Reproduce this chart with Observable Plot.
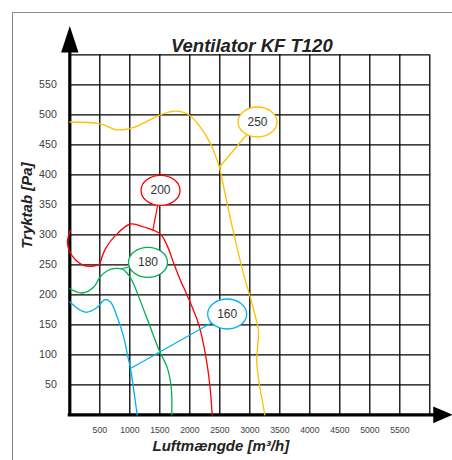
<!DOCTYPE html>
<html>
<head>
<meta charset="utf-8">
<script src="https://cdn.jsdelivr.net/npm/d3@7"></script>
<script src="https://cdn.jsdelivr.net/npm/@observablehq/plot@0.6"></script>
<style>
  html, body { margin: 0; padding: 0; background: white; overflow: hidden; }
  #wrap { position: relative; width: 452px; height: 460px; }
  #border { position: absolute; left: 12px; top: 12px; width: 600px; height: 600px;
            border-left: 1px solid #8a8a8a; border-top: 1px solid #8a8a8a; pointer-events: none; z-index: 2; }
</style>
</head>
<body>
<div id="wrap"><div id="border"></div></div>
<script>
// ---- Data ----
const fans = ["250", "200", "180", "160"];
const fanColors = ["#FFC000", "#FF0000", "#00B050", "#00B0F0"];

// Fan 250 (two pieces, kink at ~2500 m3/h)
const flow250a = [0, 511, 778, 1067, 1512, 1762, 1983, 2178, 2345, 2457, 2495];
const pres250a = [488, 485, 475, 479, 500, 506, 500, 479, 452, 424, 413];
const flow250b = [2495, 2733, 2930, 3000, 3095, 3145, 3130, 3115, 3150, 3207, 3250];
const pres250b = [413, 302, 222, 199, 163, 141, 113, 91, 57, 24, 0];

// Fan 200 (two pieces, cusp at 500 m3/h)
const flow200a = [10, -40, 40, 233, 400, 500];
const pres200a = [307, 287, 265, 249, 248, 251];
const flow200b = [500, 595, 762, 1012, 1233, 1500, 1623, 1733, 1845, 1957, 2150, 2262, 2333, 2373];
const pres200b = [251, 277, 299, 318, 313, 302, 282, 252, 224, 199, 150, 100, 50, 0];

// Fan 180
const flow180 = [0, 207, 400, 500, 623, 762, 873, 957, 1040, 1270, 1500, 1623, 1690, 1700];
const pres180 = [210, 203, 213, 229, 240, 244, 243, 236, 223, 165, 105, 79, 46, 0];

// Fan 160
const flow160 = [0, 262, 457, 583, 678, 790, 900, 957, 1012, 1067, 1123];
const pres160 = [188, 171, 179, 192, 188, 163, 129, 102, 77, 40, 0];

// Callout labels
const calloutLabels = ["250", "200", "180", "160"];
const calloutFlow = [3128, 1512, 1303, 2623];
const calloutPres = [488, 374, 254, 168];
const leaderFlow = [2495, 1383, 845, 1012];
const leaderPres = [413, 307, 243, 77];

// Axes
const xTickLabels = [500, 1000, 1500, 2000, 2500, 3000, 3500, 4000, 4500, 5000, 5500];
const yTickLabels = [50, 100, 150, 200, 250, 300, 350, 400, 450, 500, 550];
const xGrid = [0, 500, 1000, 1500, 2000, 2500, 3000, 3500, 4000, 4500, 5000, 5500, 6000];
const yGrid = [0, 50, 100, 150, 200, 250, 300, 350, 400, 450, 500, 550, 600];

const title = "Ventilator KF T120";
const xLabel = "Luftmængde [m³/h]";
const yLabel = "Tryktab [Pa]";

// ---- Build tables ----
const pieces = [
  {fan: "250", seg: "a", flow: flow250a, pres: pres250a},
  {fan: "250", seg: "b", flow: flow250b, pres: pres250b},
  {fan: "200", seg: "a", flow: flow200a, pres: pres200a},
  {fan: "200", seg: "b", flow: flow200b, pres: pres200b},
  {fan: "180", seg: "a", flow: flow180, pres: pres180},
  {fan: "160", seg: "a", flow: flow160, pres: pres160}
];
const rows = pieces.flatMap(p => p.flow.map((f, i) => ({fan: p.fan, key: p.fan + p.seg, flow: f, pres: p.pres[i]})));
const callouts = calloutLabels.map((l, i) => ({
  fan: l, cx: calloutFlow[i], cy: calloutPres[i], lx: leaderFlow[i], ly: leaderPres[i]
}));

// ---- Custom symbols ----
const ellipse = {
  draw(ctx) {
    const rx = 19.5, ry = 15, k = 0.5523;
    ctx.moveTo(rx, 0);
    ctx.bezierCurveTo(rx, ry * k, rx * k, ry, 0, ry);
    ctx.bezierCurveTo(-rx * k, ry, -rx, ry * k, -rx, 0);
    ctx.bezierCurveTo(-rx, -ry * k, -rx * k, -ry, 0, -ry);
    ctx.bezierCurveTo(rx * k, -ry, rx, -ry * k, rx, 0);
    ctx.closePath();
  }
};
const arrowUp = {draw(ctx) { ctx.moveTo(0, -26.5); ctx.lineTo(8.7, 0); ctx.lineTo(-8.7, 0); ctx.closePath(); }};
const arrowRight = {draw(ctx) { ctx.moveTo(19.5, 0); ctx.lineTo(0, -8.4); ctx.lineTo(0, 8.4); ctx.closePath(); }};

const yAxisTop = 604;   // end of the thick y axis (Pa)
const xAxisEnd = 6057;  // end of the thick x axis (m3/h)

const chart = Plot.plot({
  width: 452,
  height: 460,
  marginLeft: 69.3,
  marginRight: 22.7,
  marginTop: 54.3,
  marginBottom: 45.7,
  style: {fontFamily: "'Liberation Sans', Arial, sans-serif", background: "transparent"},
  x: {domain: [0, 6000]},
  y: {domain: [0, 600]},
  color: {domain: fans, range: fanColors},
  marks: [
    Plot.gridX(xGrid, {stroke: "black", strokeOpacity: 1, strokeWidth: 1.3}),
    Plot.gridY(yGrid, {stroke: "black", strokeOpacity: 1, strokeWidth: 1.3}),
    Plot.axisX({ticks: xTickLabels, tickFormat: d => String(d), tickSize: 0, tickPadding: 12, fontSize: 8.7, color: "#404040", label: null}),
    Plot.axisY({ticks: yTickLabels, tickFormat: d => String(d), tickSize: 0, tickPadding: 13, fontSize: 10.6, color: "#404040", label: null}),
    // thick axes with arrows
    Plot.ruleX([0], {y1: 0, y2: yAxisTop, stroke: "black", strokeWidth: 3.2, strokeLinecap: "square"}),
    Plot.ruleY([0], {x1: 0, x2: xAxisEnd, stroke: "black", strokeWidth: 3.2, strokeLinecap: "square"}),
    Plot.dot([0], {x: 0, y: yAxisTop, symbol: arrowUp, fill: "black"}),
    Plot.dot([0], {x: xAxisEnd, y: 0, symbol: arrowRight, fill: "black"}),
    // fan curves
    Plot.line(rows, {x: "flow", y: "pres", z: "key", stroke: "fan", strokeWidth: 1.3, curve: "catmull-rom"}),
    // leaders and callouts
    Plot.link(callouts, {x1: "lx", y1: "ly", x2: "cx", y2: "cy", stroke: "fan", strokeWidth: 1.2}),
    Plot.dot(callouts, {x: "cx", y: "cy", symbol: ellipse, fill: "white", stroke: "fan", strokeWidth: 1.3}),
    Plot.text(callouts, {x: "cx", y: "cy", text: "fan", fontSize: 12, fill: "#333"}),
    // titles
    Plot.text([title], {text: d => d, frameAnchor: "top", dx: 2, dy: -16, fontSize: 18.5,
      fontWeight: "bold", fontStyle: "italic", fill: "#222"}),
    Plot.text([xLabel], {text: d => d, frameAnchor: "bottom", dx: -29, dy: 36, fontSize: 15,
      fontWeight: "bold", fontStyle: "italic", fill: "#222"}),
    Plot.text([yLabel], {text: d => d, frameAnchor: "left", rotate: -90, dx: -43, dy: 14, fontSize: 15,
      fontWeight: "bold", fontStyle: "italic", fill: "#222"})
  ]
});
document.getElementById("wrap").appendChild(chart);
</script>
</body>
</html>
